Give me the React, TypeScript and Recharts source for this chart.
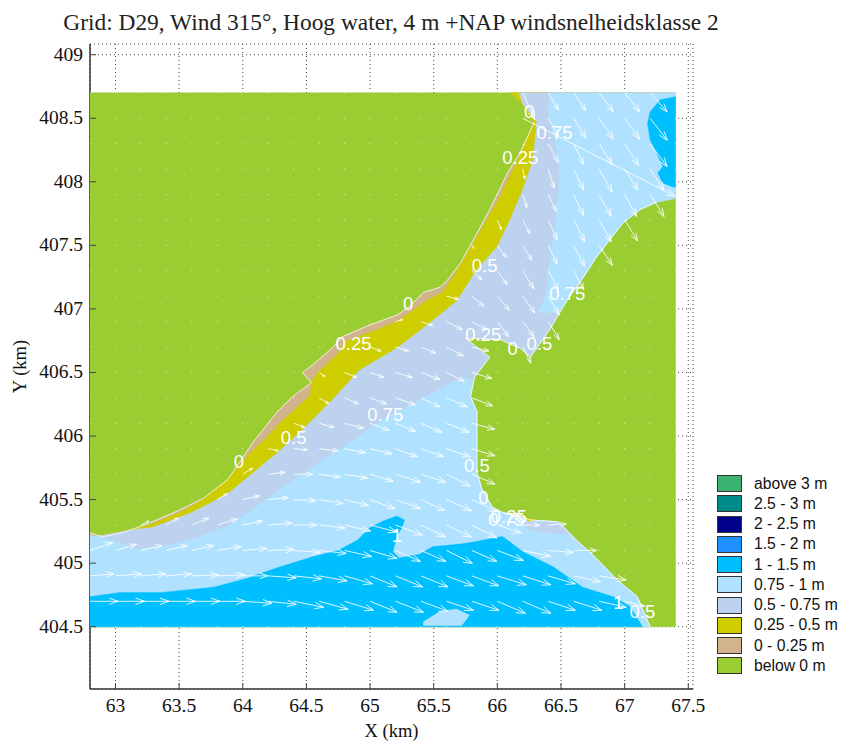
import { ScatterChart, Scatter, XAxis, YAxis, CartesianGrid } from 'recharts'

type Pt = { x: number; y: number }
type Pair = [number, number]

const xTicks = [63, 63.5, 64, 64.5, 65, 65.5, 66, 66.5, 67, 67.5]
const yTicks = [404.5, 405, 405.5, 406, 406.5, 407, 407.5, 408, 408.5, 409]

const legendLabels = ['above 3 m', '2.5 - 3 m', '2 - 2.5 m', '1.5 - 2 m', '1 - 1.5 m', '0.75 - 1 m', '0.5 - 0.75 m', '0.25 - 0.5 m', '0 - 0.25 m', 'below 0 m']
const legendColors = ['#3CB371', '#008B8B', '#00008B', '#1E90FF', '#00BFFF', '#B0E2FF', '#BCD2EE', '#CDCD00', '#D2B48C', '#9ACD32']

// shoreline pieces, km
const northCoast: Pair[] = [[62.8, 405.238], [62.9, 405.207], [63.06, 405.24], [63.27, 405.317], [63.51, 405.42], [63.69, 405.51], [63.88, 405.655], [63.98, 405.8], [64.08, 405.95], [64.2, 406.1], [64.27, 406.19], [64.39, 406.31], [64.54, 406.42], [64.47, 406.5], [64.55, 406.56], [64.71, 406.7], [64.78, 406.78], [65, 406.875], [65.21, 406.95], [65.31, 407.02], [65.42, 407.13], [65.55, 407.17], [65.61, 407.23], [65.71, 407.36], [65.81, 407.54], [65.94, 407.78], [66.08, 408.07], [66.18, 408.23], [66.29, 408.47]]
const capeTop: Pair[] = [[66.19, 408.62], [66.1, 408.7]]
const northEastCorner: Pair[] = [[67.4, 408.7], [67.4, 407.87]]
const eastShoreUpper: Pair[] = [[67.25, 407.84], [67.12, 407.78], [66.99, 407.68], [66.88, 407.54], [66.78, 407.41], [66.67, 407.24], [66.55, 407.07]]
const eastShoreLower: Pair[] = [[66.41, 406.835], [66.26, 406.62], [66.18, 406.69], [66.02, 406.76], [65.75, 406.77], [65.94, 406.62], [65.82, 406.46]]
const bayShore: Pair[] = [[65.79, 406.31], [65.84, 406.19], [65.84, 405.71], [65.88, 405.58], [65.96, 405.44], [66.04, 405.4], [66.26, 405.34], [66.48, 405.325], [66.59, 405.21], [66.75, 405.065], [66.94, 404.87], [67.1, 404.735], [67.2, 404.5]]
const southWestCorner: Pair[] = [[62.8, 404.5]]
const eastShore = [...eastShoreUpper, ...eastShoreLower, ...bayShore]

// contour edges, km
const edgeTanYellow: Pair[] = [[62.8, 405.2], [63.27, 405.3], [63.51, 405.4], [63.69, 405.5], [63.9, 405.68], [64.06, 405.87], [64.19, 405.99], [64.29, 406.1], [64.53, 406.32], [64.54, 406.43], [64.59, 406.5], [64.76, 406.66], [64.8, 406.74], [65.05, 406.835], [65.21, 406.9], [65.34, 406.99], [65.45, 407.07], [65.57, 407.13], [65.67, 407.28], [65.78, 407.465], [66.02, 407.88], [66.15, 408.15], [66.29, 408.46]]
const edgeYellowBlue: Pair[] = [[62.8, 405.2], [63.11, 405.26], [63.29, 405.28], [63.59, 405.395], [63.82, 405.51], [63.9, 405.56], [64.28, 405.875], [64.49, 406.07], [64.68, 406.26], [64.92, 406.52], [65.21, 406.69], [65.47, 406.89], [65.68, 407.06], [65.84, 407.31], [66, 407.49], [66.1, 407.7], [66.2, 407.94], [66.28, 408.17], [66.31, 408.47], [66.2, 408.61], [66.17, 408.7]]
const edgeLightBlueSouth: Pair[] = [[62.8, 405.22], [62.98, 405.18], [63.17, 405.11], [63.37, 405.13], [63.64, 405.2], [63.9, 405.3], [64.19, 405.5], [64.43, 405.68], [64.79, 405.915], [65.13, 406.15], [65.37, 406.27], [65.53, 406.36], [65.73, 406.46], [65.8, 406.44]]
const edgeLightBlueNorth: Pair[] = [[66.48, 406.97], [66.32, 406.97], [66.36, 407.05], [66.4, 407.17], [66.39, 407.24], [66.44, 407.54], [66.48, 407.88], [66.49, 408.12], [66.45, 408.33], [66.4, 408.54], [66.41, 408.7]]
const deepSouth: Pair[] = [[62.8, 404.735], [63.04, 404.77], [63.37, 404.77], [63.77, 404.81], [64.03, 404.88], [64.29, 404.97], [64.55, 405.05], [64.75, 405.1], [64.9, 405.18], [65, 405.28], [65.1, 405.33], [65.21, 405.37], [65.27, 405.34], [65.25, 405.28], [65.21, 405.21], [65.18, 405.09], [65.23, 405.04], [65.39, 405.07], [65.49, 405.13], [65.71, 405.15], [65.78, 405.16], [66.04, 405.21], [66.2, 405.09], [66.44, 404.97], [66.67, 404.81], [66.91, 404.735], [67.04, 404.66], [67.14, 404.5], [62.8, 404.5]]
const deepNorth: Pair[] = [[67.4, 408.67], [67.28, 408.645], [67.2, 408.55], [67.18, 408.46], [67.2, 408.33], [67.25, 408.23], [67.3, 408.12], [67.26, 408.07], [67.3, 407.99], [67.38, 407.96], [67.4, 407.96]]
const shoalSouth: Pair[] = [[65.42, 404.54], [65.55, 404.62], [65.68, 404.64], [65.78, 404.59], [65.72, 404.51], [65.42, 404.51]]
const patchSouthEast: Pair[] = [[66.18, 405.32], [66.48, 405.325], [66.59, 405.22], [66.41, 405.24], [66.26, 405.26]]
const sliverSouthEast: Pair[] = [[66.22, 405.36], [66.3, 405.34], [66.24, 405.33]]
const wholeGrid: Pair[] = [[62.8, 404.5], [62.8, 408.7], [67.4, 408.7], [67.4, 404.5]]

const tanArea = [...northCoast, ...capeTop, ...northEastCorner, ...eastShore, ...southWestCorner]
const yellowArea = [...edgeTanYellow, ...capeTop, ...northEastCorner, ...eastShore, ...southWestCorner]
const periwinkleArea = [...edgeYellowBlue, ...northEastCorner, ...eastShore, ...southWestCorner]
const lightSouthArea = [...edgeLightBlueSouth, ...bayShore, ...southWestCorner]
const lightNorthArea = [...edgeLightBlueNorth, ...northEastCorner, ...eastShoreUpper]

const filledAreas: [Pair[], string][] = [
  [wholeGrid, '#9ACD32'],
  [tanArea, '#D2B48C'],
  [yellowArea, '#CDCD00'],
  [periwinkleArea, '#BCD2EE'],
  [lightSouthArea, '#B0E2FF'],
  [lightNorthArea, '#B0E2FF'],
  [deepSouth, '#00BFFF'],
  [deepNorth, '#00BFFF'],
  [shoalSouth, '#B0E2FF'],
  [patchSouthEast, '#BCD2EE'],
  [sliverSouthEast, '#CDCD00'],
]

const gridX = [62.8, 63, 63.2, 63.4, 63.6, 63.8, 64, 64.2, 64.4, 64.6, 64.8, 65, 65.2, 65.4, 65.6, 65.8, 66, 66.2, 66.4, 66.6, 66.8, 67, 67.2, 67.4]
const gridY = [408.7, 408.5, 408.3, 408.1, 407.9, 407.7, 407.5, 407.3, 407.1, 406.9, 406.7, 406.5, 406.3, 406.1, 405.9, 405.7, 405.5, 405.3, 405.1, 404.9, 404.7, 404.5]

// [row in gridY, first column in gridX, [east, south] per node]
const vectorRows: [number, number, Pair[]][] = [
  [0, 17, [[12, 27], [10, 17], [12, 18], [14, 19], [15, 19], [17, 19]]],
  [1, 17, [[152, 78], [10, 18], [12, 20], [14, 21], [15, 21], [17, 22]]],
  [2, 17, [[1, 2], [10, 19], [10, 21], [13, 21], [14, 22], [17, 23]]],
  [3, 17, [[2, 10], [6, 19], [10, 21], [13, 23], [13, 21], [14, 21]]],
  [4, 17, [[4, 13], [8, 17], [10, 21], [12, 22], [12, 22], [14, 22]]],
  [5, 16, [[4, 10], [7, 14], [9, 20], [11, 22], [12, 22], [13, 21]]],
  [6, 15, [[2, 3], [9, 12], [9, 15], [9, 19], [11, 21], [13, 20]]],
  [7, 15, [[10, 9], [10, 14], [11, 18], [10, 19], [10, 19]]],
  [8, 14, [[12, 3], [12, 10], [12, 14], [12, 17], [11, 19]]],
  [9, 12, [[7, -2], [12, 4], [16, 8], [15, 8], [11, 15], [11, 15], [11, 18]]],
  [10, 11, [[11, 4], [13, 4], [15, 6], [17, 9], [17, 4]]],
  [10, 17, [[8, 16]]],
  [11, 9, [[6, 4], [12, 5], [14, 5], [17, 5], [19, 7], [18, 9], [20, 6]]],
  [12, 9, [[10, 6], [14, 6], [17, 6], [20, 7], [19, 9], [21, 9], [21, 8]]],
  [13, 8, [[11, 4], [15, 4], [19, 5], [19, 7], [20, 8], [21, 9], [23, 9], [23, 6]]],
  [14, 7, [[10, 2], [14, 1], [19, 2], [21, 4], [22, 5], [22, 8], [23, 8], [24, 8], [23, 7]]],
  [15, 6, [[10, -6], [17, -2], [19, 0], [21, 3], [23, 4], [23, 7], [25, 8], [25, 8], [24, 12], [23, 10]]],
  [16, 5, [[10, -6], [17, -4], [20, -2], [22, 1], [24, 4], [24, 6], [25, 9], [25, 9], [24, 11], [25, 11], [25, 12]]],
  [17, 2, [[8, -4], [12, -7], [17, -7], [20, -6], [20, -4], [24, -2], [23, 0], [26, 3], [26, 6], [27, 7], [27, 10], [25, 12], [25, 12], [25, 13], [24, 8], [17, 0], [18, -1]]],
  [18, 0, [[23, -8], [21, -6], [21, -5], [21, -5], [22, -5], [24, -4], [24, -2], [26, -1], [27, 2], [27, 3], [27, 6], [27, 8], [25, 11], [25, 11], [26, 13], [25, 11], [26, 10], [28, 6], [25, 2], [23, 0]]],
  [19, 0, [[24, -2], [26, -2], [25, -2], [25, -2], [27, -1], [27, -1], [25, 0], [28, 2], [28, 3], [28, 5], [28, 8], [27, 11], [27, 11], [27, 11], [27, 10], [27, 10], [29, 9], [28, 9], [27, 8], [27, 6], [27, 4]]],
  [20, 0, [[28, 0], [29, 0], [28, 0], [29, 0], [28, 0], [28, 0], [29, 2], [28, 3], [30, 6], [29, 8], [29, 9], [27, 11], [28, 11], [27, 10], [27, 9], [27, 9], [28, 12], [28, 12], [27, 9], [28, 9], [27, 6], [20, 5]]],
]
const vectorScale = 0.00786

const contourLabels: [number, number, string][] = [
  [66.25, 408.55, '0'], [66.45, 408.39, '0.75'], [66.18, 408.19, '0.25'], [65.9, 407.34, '0.5'], [66.55, 407.12, '0.75'],
  [65.3, 407.04, '0'], [65.89, 406.8, '0.25'], [66.12, 406.69, '0'], [66.33, 406.73, '0.5'], [64.87, 406.73, '0.25'],
  [65.12, 406.17, '0.75'], [64.4, 405.99, '0.5'], [63.97, 405.8, '0'], [65.84, 405.77, '0.5'], [65.89, 405.52, '0'],
  [66.09, 405.37, '0.25'], [66.07, 405.34, '0.75'], [65.21, 405.22, '1'], [66.95, 404.69, '1'], [67.14, 404.62, '0.5'],
]

const toPts = (list: Pair[]): Pt[] => list.map(([x, y]) => ({ x, y }))

const arrowData: Pt[] = []
const wetNodes = new Set<string>()
vectorRows.forEach(([row, col, vecs]) => {
  vecs.forEach(([east, south], n) => {
    const x = gridX[col + n]
    const y = gridY[row]
    wetNodes.add(`${col + n}-${row}`)
    arrowData.push({ x, y }, { x: x + east * vectorScale, y: y - south * vectorScale })
  })
})
const dryNodes: Pt[] = []
gridY.forEach((y, r) => gridX.forEach((x, c) => {
  if (!wetNodes.has(`${c}-${r}`)) dryNodes.push({ x, y })
}))

const hidePoint = () => <g />

function polygonLine(fill: string) {
  return (props: any) => {
    const d = props.points.map((p: Pt, i: number) => `${i ? 'L' : 'M'}${p.x},${p.y}`).join('') + 'Z'
    return <path d={d} fill={fill} stroke={fill} strokeWidth={0.5} />
  }
}

function shoreLine(props: any) {
  const d = props.points.map((p: Pt, i: number) => `${i ? 'L' : 'M'}${p.x},${p.y}`).join('')
  return <path d={d} fill="none" stroke="#fff" strokeOpacity={0.75} strokeWidth={1} />
}

function arrowLines(props: any) {
  const pts: Pt[] = props.points
  let d = ''
  for (let i = 0; i + 1 < pts.length; i += 2) {
    const a = pts[i]
    const b = pts[i + 1]
    const dx = b.x - a.x
    const dy = b.y - a.y
    const len = Math.hypot(dx, dy)
    const back = Math.min(len, 28) * 0.32
    const side = back * 0.36
    const ux = len ? dx / len : 0
    const uy = len ? dy / len : 0
    const bx = b.x - ux * back
    const by = b.y - uy * back
    d += `M${a.x},${a.y}L${b.x},${b.y}M${bx - uy * side},${by + ux * side}L${b.x},${b.y}L${bx + uy * side},${by - ux * side}`
  }
  return <path d={d} fill="none" stroke="#fff" strokeOpacity={0.85} strokeWidth={1} />
}

const dotShape = (props: any) => <rect x={props.cx - 0.5} y={props.cy - 0.5} width={1} height={1} fill="#fff" fillOpacity={0.7} />

const serif = '"Liberation Serif", serif'
const sans = '"Liberation Sans", sans-serif'

function labelShape(props: any) {
  return (
    <text x={props.cx} y={props.cy} textAnchor="middle" dominantBaseline="central" fill="#fff" style={{ fontFamily: sans, fontSize: 18.5 }}>
      {props.payload.text}
    </text>
  )
}

function BottomTick({ x, y, payload }: any) {
  return (
    <g>
      <line x1={x} x2={x} y1={y} y2={y - 6} stroke="#444" />
      <text x={x} y={y + 23} textAnchor="middle" fill="#111" style={{ fontFamily: serif, fontSize: 19.5 }}>{payload.value}</text>
    </g>
  )
}
function LeftTick({ x, y, payload }: any) {
  return (
    <g>
      <line x1={x} x2={x + 6} y1={y} y2={y} stroke="#444" />
      <text x={x - 7} y={y + 6} textAnchor="end" fill="#111" style={{ fontFamily: serif, fontSize: 19.5 }}>{payload.value}</text>
    </g>
  )
}
const TopTick = ({ x, y }: any) => <line x1={x} x2={x} y1={y} y2={y + 6} stroke="#444" />
const RightTick = ({ x, y }: any) => <line x1={x} x2={x - 6} y1={y} y2={y} stroke="#444" />

const xDomain = [62.8, 67.537]
const yDomain = [404.01, 409.084]

export default function App() {
  return (
    <div style={{ position: 'absolute', left: 0, top: 0, width: 842, height: 742, background: '#fff' }}>
      <div style={{ position: 'absolute', left: 0, top: 9, width: 782, textAlign: 'center', fontFamily: serif, fontSize: 23.4, color: '#222', whiteSpace: 'nowrap' }}>
        Grid: D29, Wind 315°, Hoog water, 4 m +NAP windsnelheidsklasse 2
      </div>
      <ScatterChart width={842} height={742} margin={{ top: 44, right: 149, bottom: 0, left: 0 }}>
        <CartesianGrid strokeDasharray="1 3" stroke="#444" />
        <XAxis type="number" dataKey="x" domain={xDomain} ticks={xTicks} allowDataOverflow height={53} tickSize={0} tickMargin={0} stroke="#333" strokeWidth={1.5} tick={BottomTick} interval={0}
          label={{ value: 'X (km)', position: 'insideBottom', offset: 5, fontFamily: serif, fontSize: 18.5, fill: '#111' }} />
        <XAxis xAxisId="top" orientation="top" type="number" dataKey="x" domain={xDomain} ticks={xTicks} allowDataOverflow height={0} tickSize={0} tickMargin={0} stroke="#555" strokeWidth={1.5} tick={TopTick} interval={0} />
        <YAxis type="number" dataKey="y" domain={yDomain} ticks={yTicks} allowDataOverflow width={90} tickSize={0} tickMargin={0} stroke="#333" strokeWidth={1.5} tick={LeftTick} interval={0}
          label={{ value: 'Y (km)', angle: -90, position: 'insideLeft', offset: 19, fontFamily: serif, fontSize: 18.5, fill: '#111', style: { textAnchor: 'middle' } }} />
        <YAxis yAxisId="right" orientation="right" type="number" dataKey="y" domain={yDomain} ticks={yTicks} allowDataOverflow width={0} tickSize={0} tickMargin={0} stroke="#555" strokeWidth={1.5} tick={RightTick} interval={0} />

        {filledAreas.map(([area, color], i) => (
          <Scatter key={i} data={toPts(area)} line={polygonLine(color)} lineType="joint" shape={hidePoint} isAnimationActive={false} />
        ))}
        <Scatter data={toPts(northCoast)} line={shoreLine} lineType="joint" shape={hidePoint} isAnimationActive={false} />
        <Scatter data={toPts(eastShore)} line={shoreLine} lineType="joint" shape={hidePoint} isAnimationActive={false} />
        <Scatter data={dryNodes} shape={dotShape} isAnimationActive={false} />
        <Scatter data={arrowData} line={arrowLines} lineType="joint" shape={hidePoint} isAnimationActive={false} />
        <Scatter data={contourLabels.map(([x, y, text]) => ({ x, y, text }))} shape={labelShape} isAnimationActive={false} />
      </ScatterChart>
      <div style={{ position: 'absolute', left: 717, top: 475 }}>
        {legendLabels.map((name, i) => (
          <div key={name} style={{ position: 'absolute', top: i * 20.25, left: 0, height: 17, display: 'flex', alignItems: 'center', whiteSpace: 'nowrap' }}>
            <span style={{ boxSizing: 'border-box', width: 25, height: 17, background: legendColors[i], border: '1px solid #333', marginRight: 12 }} />
            <span style={{ fontFamily: sans, fontSize: 15.7, color: '#111' }}>{name}</span>
          </div>
        ))}
      </div>
    </div>
  )
}
